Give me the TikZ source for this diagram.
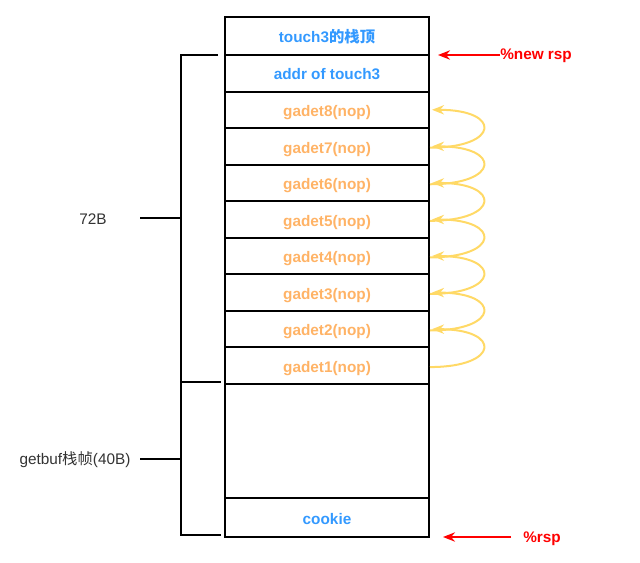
\documentclass[tikz,border=0pt]{standalone}
\usepackage{fontspec}
\setmainfont{Liberation Sans}
\newfontfamily\cjk{Noto Sans CJK SC}
\usetikzlibrary{arrows.meta}
\definecolor{topblue}{RGB}{51,153,255}
\definecolor{gadorange}{RGB}{255,179,102}
\definecolor{hopyellow}{RGB}{255,217,102}
\definecolor{labgray}{RGB}{51,51,51}
\tikzset{
  cell/.style={draw, line width=1.5pt, minimum width=153pt, inner sep=0pt, text height=10pt, text depth=0pt, font=\fontsize{11.5}{13}\selectfont\bfseries},
  brace/.style={line width=1.2pt},
  rsparrow/.style={red, line width=1.5pt, -{Stealth[length=9pt,width=7pt]}},
  hop/.style={hopyellow, line width=1.5pt, -{Stealth[length=9pt,width=7pt]}}
}
\begin{document}
\begin{tikzpicture}[x=0.75pt,y=-0.75pt, every node/.style={font=\fontsize{11.5}{13}\selectfont}]
\useasboundingbox (0,0) rectangle (640,562);
% stack cells
\node[cell, minimum height=28.5pt, text=topblue] (top) at (327,36) {touch3{\cjk 的栈顶}};
\node[cell, minimum height=27.4pt, text=topblue] (addr) at (327,73.3) {addr of touch3};
\foreach \n in {1,...,8}
  \node[cell, minimum height=27.4pt, text=gadorange] (g\n) at (327,{384-36.56*(\n-0.5)}) {gadet\n(nop)};
\node[cell, minimum height=85.5pt] (buf) at (327,441) {};
\node[cell, minimum height=29.25pt, text=topblue] (cookie) at (327,517.5) {cookie};
% gadget hops
\foreach \n [evaluate=\n as \m using int(\n+1)] in {1,...,7}
  \draw[hop] ([yshift=-1pt]g\n.east) .. controls +(70,0) and +(70,0) .. ([xshift=1.5pt]g\m.east);
% brackets
\draw[brace] (218,55) -- (181,55) -- (181,382) -- (221,382);
\draw[brace] (140,218) -- (181,218);
\draw[brace] (181,382) -- (181,535) -- (221,535);
\draw[brace] (140,459) -- (181,459);
\node[text=labgray] (size72) at (93,219) {72B};
\node[text=labgray] (getbuf) at (75,460) {getbuf{\cjk 栈帧}(40B)};
% rsp markers
\coordinate (newtip) at (438,55);
\coordinate (rsptip) at (443,537);
\node[text=red, font=\fontsize{11.5}{13}\selectfont\bfseries, anchor=west, inner sep=0pt] (newrsp) at (500,56) {\%new rsp};
\node[text=red, font=\fontsize{11.5}{13}\selectfont\bfseries, anchor=west, inner sep=0pt] (rsp) at (523,539) {\%rsp};
\draw[rsparrow] (newrsp.west |- newtip) -- (newtip);
\draw[rsparrow] ([xshift=-9pt]rsp.west |- rsptip) -- (rsptip);
\end{tikzpicture}
\end{document}
